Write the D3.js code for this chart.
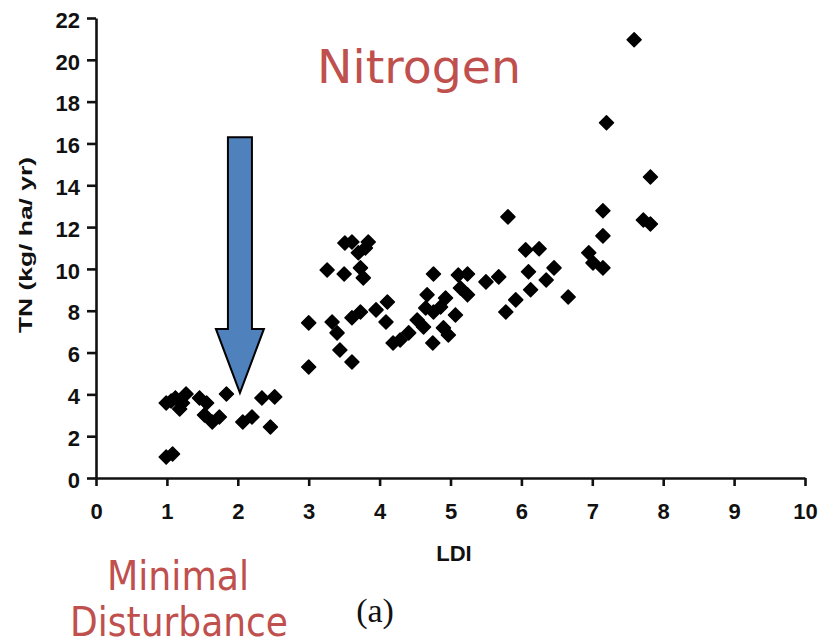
<!DOCTYPE html>
<html>
<head>
<script src="https://cdn.jsdelivr.net/npm/d3@7"></script>
<meta charset="utf-8">
<title>TN vs LDI</title>
<style>
  body { margin: 0; background: #fff; }
  svg { display: block; }
</style>
</head>
<body>
<div id="chartArea"></div>
<script>
// LDI values
var ldi = [0.99, 1.08, 0.99, 1.06, 1.12, 1.18, 1.27, 1.22, 1.46, 1.56, 1.53, 1.64, 1.74, 1.84, 2.07, 2.20, 2.34, 2.52, 2.46,
  3.00, 3.00, 3.26, 3.50, 3.51, 3.61, 3.84, 3.80, 3.70, 3.73, 3.77, 3.33, 3.40, 3.44, 3.61, 3.61, 3.73, 3.95, 4.11, 4.09, 4.19, 4.29, 4.41,
  4.53, 4.62, 4.67, 4.65, 4.76, 4.76, 4.93, 4.86, 5.07, 4.90, 4.97, 4.75, 5.11, 5.24, 5.14, 5.24, 5.50, 5.68,
  5.81, 5.78, 5.92, 6.06, 6.25, 6.10, 6.13, 6.35, 6.46, 6.66,
  6.95, 7.01, 7.15, 7.15, 7.15, 7.20, 7.59, 7.82, 7.72, 7.82];
// TN (kg/ ha/ yr) for each point
var tn = [1.00, 1.15, 3.59, 3.68, 3.83, 3.30, 4.02, 3.59, 3.83, 3.59, 3.01, 2.68, 2.92, 4.02, 2.68, 2.92, 3.83, 3.88, 2.44,
  7.42, 5.31, 9.95, 9.76, 11.24, 11.29, 11.29, 11.00, 10.77, 10.05, 9.57, 7.46, 6.94, 6.12, 5.55, 7.66, 7.94, 8.04, 8.42, 7.46, 6.46, 6.60, 6.94,
  7.56, 7.22, 8.76, 8.13, 7.94, 9.76, 8.61, 8.18, 7.80, 7.18, 6.84, 6.46, 9.71, 9.76, 9.09, 8.76, 9.38, 9.62,
  12.49, 7.94, 8.52, 10.91, 10.96, 9.86, 9.00, 9.47, 10.05, 8.66,
  10.77, 10.29, 10.05, 11.58, 12.78, 16.99, 20.96, 14.40, 12.34, 12.15];

var xTicks = [0, 1, 2, 3, 4, 5, 6, 7, 8, 9, 10];
var yTicks = [0, 2, 4, 6, 8, 10, 12, 14, 16, 18, 20, 22];

// arrow in data units: tip, head base, top
var arrowX = 2.03;
var arrowY = [4.07, 7.13, 16.3];

var width = 825, height = 644;

var svg = d3.select('#chartArea')
  .append('svg')
  .attr('width', width)
  .attr('height', height);

var x = d3.scaleLinear().domain([0, 10]).range([96, 805]);
var y = d3.scaleLinear().domain([0, 22]).range([478, 18]);

var xAxis = d3.axisBottom(x).tickValues(xTicks).tickSize(8).tickPadding(12).tickSizeOuter(0);
var yAxis = d3.axisLeft(y).tickValues(yTicks).tickSize(9).tickPadding(7).tickSizeOuter(0);

var gx = svg.append('g')
  .attr('transform', 'translate(0,' + y(0) + ')')
  .call(xAxis);
var gy = svg.append('g')
  .attr('transform', 'translate(' + x(0) + ',0)')
  .call(yAxis);

[gx, gy].forEach(function(g) {
  g.selectAll('path, line').attr('stroke', '#111').attr('stroke-width', 2.6);
  g.selectAll('text')
    .attr('fill', '#111')
    .style('font-family', 'Liberation Sans, Arial, sans-serif')
    .style('font-size', '22px')
    .style('font-weight', 'bold');
});
gx.selectAll('text').attr('dy', '0.95em');
gy.selectAll('text').attr('dy', '0.42em');

svg.append('text')
  .attr('transform', 'translate(32,245) rotate(-90)')
  .attr('text-anchor', 'middle')
  .attr('textLength', 176)
  .attr('lengthAdjust', 'spacingAndGlyphs')
  .style('font-family', 'Liberation Sans, Arial, sans-serif')
  .style('font-size', '18px')
  .style('font-weight', 'bold')
  .attr('fill', '#111')
  .text('TN (kg/ ha/ yr)');

svg.append('text')
  .attr('x', 454).attr('y', 561)
  .attr('text-anchor', 'middle')
  .style('font-family', 'Liberation Sans, Arial, sans-serif')
  .style('font-size', '22px')
  .style('font-weight', 'bold')
  .attr('fill', '#111')
  .text('LDI');

// points
var pts = ldi.map(function(v, i) { return { x: v, y: tn[i] }; });
svg.append('g').selectAll('path')
  .data(pts)
  .enter()
  .append('path')
  .attr('d', 'M0,-7L7,0L0,7L-7,0Z')
  .attr('transform', function(d) { return 'translate(' + x(d.x) + ',' + y(d.y) + ')'; })
  .attr('fill', '#000')
  .attr('stroke', '#000')
  .attr('stroke-width', 1.5)
  .attr('stroke-linejoin', 'round');

// arrow
var ax = x(arrowX);
var arrowPath = d3.path();
arrowPath.moveTo(ax - 12, y(arrowY[2]));
arrowPath.lineTo(ax + 12, y(arrowY[2]));
arrowPath.lineTo(ax + 12, y(arrowY[1]));
arrowPath.lineTo(ax + 24, y(arrowY[1]));
arrowPath.lineTo(ax, y(arrowY[0]));
arrowPath.lineTo(ax - 24, y(arrowY[1]));
arrowPath.lineTo(ax - 12, y(arrowY[1]));
arrowPath.closePath();
svg.append('path')
  .attr('d', arrowPath.toString())
  .attr('fill', '#4f81bd')
  .attr('stroke', '#000')
  .attr('stroke-width', 2);

// annotations
svg.append('text')
  .attr('x', 419).attr('y', 83)
  .attr('text-anchor', 'middle')
  .attr('textLength', 204)
  .attr('lengthAdjust', 'spacingAndGlyphs')
  .style('font-family', 'DejaVu Sans, sans-serif')
  .style('font-size', '46px')
  .attr('fill', '#c0504d')
  .text('Nitrogen');

svg.append('text')
  .attr('x', 178).attr('y', 590)
  .attr('text-anchor', 'middle')
  .attr('textLength', 142)
  .attr('lengthAdjust', 'spacingAndGlyphs')
  .style('font-family', 'DejaVu Sans, sans-serif')
  .style('font-size', '40px')
  .attr('fill', '#c0504d')
  .text('Minimal');

svg.append('text')
  .attr('x', 179).attr('y', 636)
  .attr('text-anchor', 'middle')
  .attr('textLength', 218)
  .attr('lengthAdjust', 'spacingAndGlyphs')
  .style('font-family', 'DejaVu Sans, sans-serif')
  .style('font-size', '40px')
  .attr('fill', '#c0504d')
  .text('Disturbance');

svg.append('text')
  .attr('x', 375).attr('y', 622)
  .attr('text-anchor', 'middle')
  .style('font-family', 'Liberation Serif, Times New Roman, serif')
  .style('font-size', '34px')
  .attr('fill', '#111')
  .text('(a)');
</script>
</body>
</html>
